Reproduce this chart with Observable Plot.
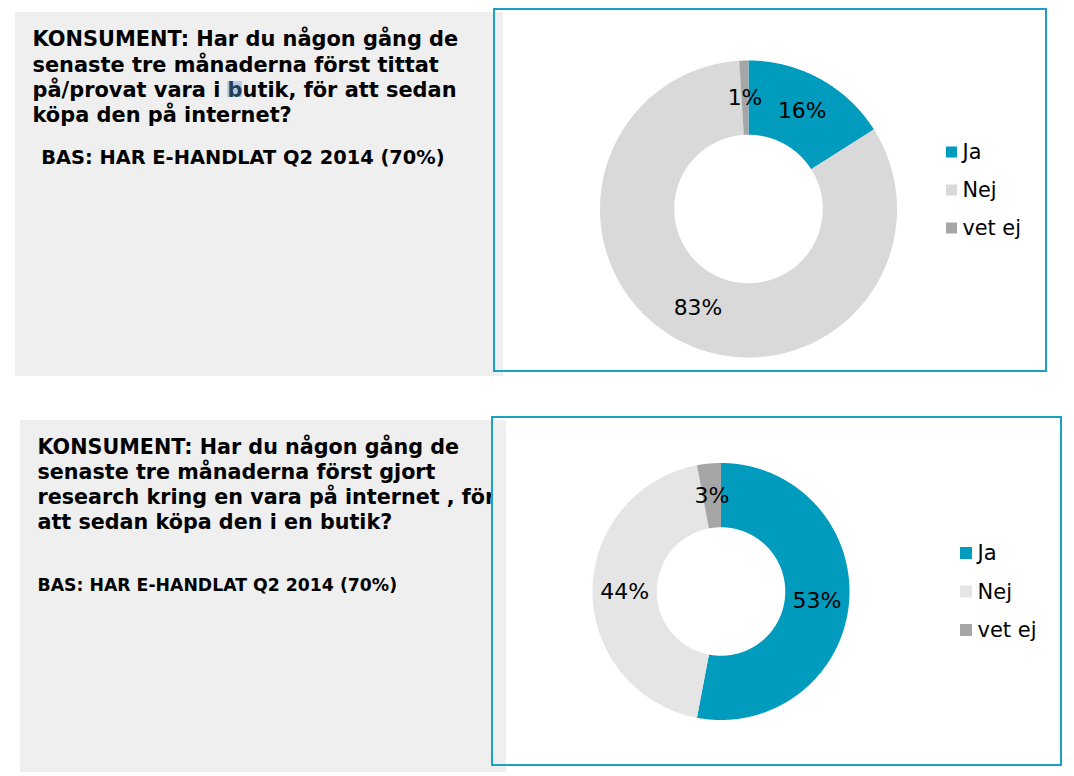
<!DOCTYPE html>
<html><head><meta charset="utf-8">
<script src="https://cdn.jsdelivr.net/npm/d3@7"></script>
<script src="https://cdn.jsdelivr.net/npm/@observablehq/plot@0.6"></script>
<style>html,body{margin:0;padding:0;background:#fff;} svg{display:block}</style>
</head><body><div id="chart"></div>
<script>
// ---------- DATA ----------
const categories = ["Ja", "Nej", "vet ej"];
const values1 = [16, 83, 1];
const values2 = [53, 44, 3];
const labels1 = ["16%", "83%", "1%"];
const labels2 = ["53%", "44%", "3%"];
const colors1 = ["#019bbd", "#d9d9d9", "#a6a6a6"];
const colors2 = ["#019bbd", "#e5e5e5", "#a6a6a6"];
const titleLines1 = [
  "KONSUMENT: Har du någon gång de",
  "senaste tre månaderna först tittat",
  "på/provat vara i butik, för att sedan",
  "köpa den på internet?"
];
const titleLines2 = [
  "KONSUMENT: Har du någon gång de",
  "senaste tre månaderna först gjort",
  "research kring en vara på internet , för",
  "att sedan köpa den i en butik?"
];
const base1 = "BAS: HAR E-HANDLAT Q2 2014 (70%)";
const base2 = "BAS: HAR E-HANDLAT Q2 2014 (70%)";

// ---------- LAYOUT ----------
const GRAY = "#efefef", BORDER = "#19a2c5", FONT = "DejaVu Sans";
const layout = [
  {gray:{x1:15,y1:12,x2:503,y2:376}, border:{x1:494,y1:9,x2:1046,y2:371},
   textX:32, titleY:45.7, lineH:25.4, titleSize:20.9, baseX:40.7, baseY:163, baseSize:19.4,
   cx:748, cy:208.5, r:148.5, inner:0.5, labelSize:21.8,
   swX:946, sw:11, legY:152, legStep:38, legTextX:962, legSize:20.8},
  {gray:{x1:20,y1:420,x2:506,y2:772}, border:{x1:492,y1:417,x2:1061,y2:765},
   textX:37, titleY:453, lineH:25.3, titleSize:20.7, baseX:37, baseY:590, baseSize:17.3,
   cx:720.5, cy:591, r:128.5, inner:0.5, labelSize:22,
   swX:960, sw:12, legY:553, legStep:38.5, legTextX:977, legSize:21}
];
const panels = [
  {values: values1, labels: labels1, colors: colors1, title: titleLines1, base: base1},
  {values: values2, labels: labels2, colors: colors2, title: titleLines2, base: base2}
];

// ---------- DERIVED ROWS ----------
const pie = d3.pie().sort(null).value(d => d.value);
const polyRows = [], labelRows = [], legendRows = [], titleRows = [];
panels.forEach((p, pi) => {
  const L = layout[pi];
  p.title.forEach((line, li) => titleRows.push({x: L.textX, y: L.titleY + li * L.lineH, text: line, size: L.titleSize}));
  titleRows.push({x: L.baseX, y: L.baseY, text: p.base, size: L.baseSize});
  const arcs = pie(categories.map((c, i) => ({category: c, value: p.values[i], label: p.labels[i], color: p.colors[i]})));
  const ri = L.r * L.inner;
  arcs.forEach((a, i) => {
    const key = pi + "-" + i;
    const n = Math.max(2, Math.ceil((a.endAngle - a.startAngle) / 0.005));
    for (let k = 0; k <= n; k++) {
      const t = a.startAngle + (a.endAngle - a.startAngle) * k / n;
      polyRows.push({key, x: L.cx + L.r * Math.sin(t), y: L.cy - L.r * Math.cos(t), fill: a.data.color});
    }
    for (let k = n; k >= 0; k--) {
      const t = a.startAngle + (a.endAngle - a.startAngle) * k / n;
      polyRows.push({key, x: L.cx + ri * Math.sin(t), y: L.cy - ri * Math.cos(t), fill: a.data.color});
    }
    const mid = (a.startAngle + a.endAngle) / 2, rm = (L.r + ri) / 2;
    labelRows.push({x: L.cx + rm * Math.sin(mid), y: L.cy - rm * Math.cos(mid), text: a.data.label, size: L.labelSize});
    const cy = L.legY + i * L.legStep;
    legendRows.push({x1: L.swX, x2: L.swX + L.sw, y1: cy - L.sw / 2, y2: cy + L.sw / 2, cy, tx: L.legTextX, text: categories[i], fill: p.colors[i], size: L.legSize});
  });
});

// selection highlight on the "b" of "butik" (artifact in the original slide)
const ctx = document.createElement("canvas").getContext("2d");
ctx.font = `bold ${layout[0].titleSize}px "${FONT}"`;
const line3 = titleLines1[2];
const bIdx = line3.indexOf("butik");
const hx = layout[0].textX + ctx.measureText(line3.slice(0, bIdx)).width;
const hw = ctx.measureText("b").width;
const hBase = layout[0].titleY + 2 * layout[0].lineH;
const highlight = [{x1: hx, x2: hx + hw, y1: hBase - 15.5, y2: hBase + 0.5}];

const chart = Plot.plot({
  width: 1074, height: 776, margin: 0,
  x: {type: "identity", axis: null},
  y: {type: "identity", axis: null},
  color: {type: "identity"},
  style: {background: "white"},
  marks: [
    Plot.rect(layout, {x1: d => d.gray.x1, x2: d => d.gray.x2, y1: d => d.gray.y1, y2: d => d.gray.y2, fill: GRAY}),
    Plot.text(titleRows, {x: "x", y: "y", text: "text", fontSize: "size", fontWeight: "bold",
      fontFamily: FONT, textAnchor: "start", lineAnchor: "bottom", fill: "#000"}),
    Plot.rect(highlight, {x1: "x1", x2: "x2", y1: "y1", y2: "y2", fill: "#5d9bd0", fillOpacity: 0.4}),
    Plot.rect(layout, {x1: d => d.border.x1 + 1, x2: d => d.gray.x2, y1: d => d.gray.y1, y2: d => d.gray.y2, fill: GRAY}),
    Plot.rect(layout, {x1: d => d.gray.x2, x2: d => d.border.x2, y1: d => d.border.y1, y2: d => d.border.y2, fill: "white"}),
    Plot.rect(layout, {x1: d => d.border.x1, x2: d => d.border.x2, y1: d => d.border.y1, y2: d => d.border.y2,
      fill: "none", stroke: BORDER, strokeWidth: 2}),
    Plot.line(polyRows, {x: "x", y: "y", z: "key", fill: "fill", stroke: "none"}),
    Plot.text(labelRows, {x: "x", y: "y", text: "text", fontSize: "size", fontFamily: FONT, fill: "#000"}),
    Plot.rect(legendRows, {x1: "x1", x2: "x2", y1: "y1", y2: "y2", fill: "fill"}),
    Plot.text(legendRows, {x: "tx", y: "cy", text: "text", fontSize: "size", fontFamily: FONT,
      textAnchor: "start", fill: "#000"})
  ]
});
document.getElementById("chart").appendChild(chart);
</script>
</body></html>
